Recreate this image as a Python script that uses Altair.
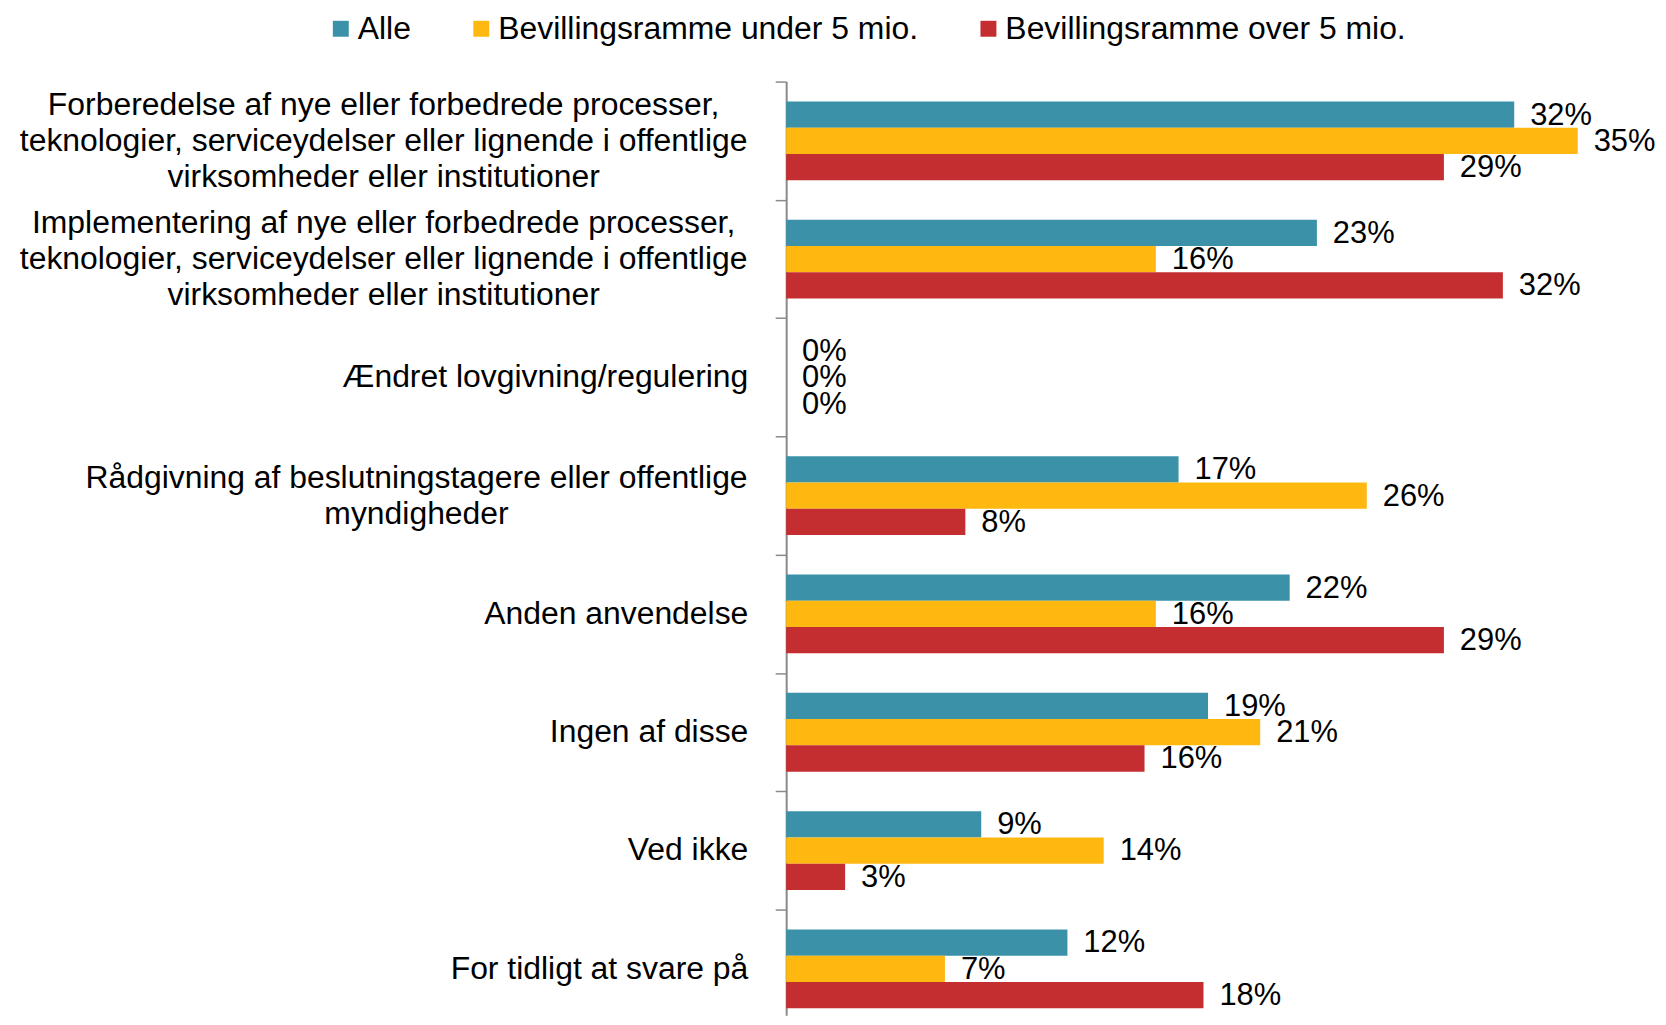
import altair as alt
import pandas as pd

categories = [
    "Forberedelse af nye eller forbedrede processer,|teknologier, serviceydelser eller lignende i offentlige|virksomheder eller institutioner",
    "Implementering af nye eller forbedrede processer,|teknologier, serviceydelser eller lignende i offentlige|virksomheder eller institutioner",
    "Ændret lovgivning/regulering",
    "Rådgivning af beslutningstagere eller offentlige|myndigheder",
    "Anden anvendelse",
    "Ingen af disse",
    "Ved ikke",
    "For tidligt at svare på",
]
series = ["Alle", "Bevillingsramme under 5 mio.", "Bevillingsramme over 5 mio."]
colors = ["#3A91A8", "#FEB80F", "#C42E30"]

alle = [0.321, 0.234, 0.0, 0.173, 0.222, 0.186, 0.086, 0.124]
under_5 = [0.349, 0.163, 0.0, 0.256, 0.163, 0.209, 0.140, 0.070]
over_5 = [0.290, 0.316, 0.0, 0.079, 0.290, 0.158, 0.026, 0.184]

rows = []
for s, vals in zip(series, [alle, under_5, over_5]):
    for c, v in zip(categories, vals):
        rows.append({"cat": c, "series": s, "value": v})
df = pd.DataFrame(rows)
cat_df = pd.DataFrame({"cat": categories})

FONT = "Liberation Sans"
PLOT_H = 937

y_scale = alt.Scale(domain=categories, paddingInner=0.334, paddingOuter=0.114, align=0.74)
y_enc = alt.Y(
    "cat:N",
    sort=categories,
    scale=y_scale,
    axis=alt.Axis(
        title=None,
        labels=False,
        bandPosition=0,
        tickOffset=-20,
        tickSize=11,
        tickWidth=1.5,
        tickColor="#8A8A8A",
        domainColor="#8A8A8A",
        domainWidth=2,
        grid=False,
    ),
)
yoff = alt.YOffset("series:N", sort=series, scale=alt.Scale(domain=series))
x_enc = alt.X("value:Q", scale=alt.Scale(domain=[0, 0.38], nice=False, zero=True), axis=None)

bars = alt.Chart(df).mark_bar().encode(
    y=y_enc,
    yOffset=yoff,
    x=x_enc,
    color=alt.Color(
        "series:N",
        sort=series,
        scale=alt.Scale(domain=series, range=colors),
        legend=alt.Legend(
            title=None,
            orient="none",
            direction="horizontal",
            legendX=-463,
            legendY=-69,
            labelFont=FONT,
            labelFontSize=32,
            labelColor="#000000",
            labelLimit=1000,
            labelOffset=1,
            symbolType="square",
            symbolSize=256,
            symbolStrokeWidth=0,
            columnPadding=54,
            padding=0,
        ),
    ),
)

value_labels = alt.Chart(df).mark_text(
    align="left", baseline="middle", dx=16, dy=1, fontSize=31, font=FONT, color="#000000"
).encode(
    y=alt.Y("cat:N", sort=categories, scale=y_scale),
    yOffset=yoff,
    x=x_enc,
    text=alt.Text("value:Q", format=".0%"),
)

cat_labels = alt.Chart(cat_df).transform_calculate(
    lines="split(datum.cat, '|')"
).mark_text(
    baseline="middle",
    fontSize=32,
    lineHeight=36,
    font=FONT,
    color="#000000",
    align=alt.ExprRef("indexof(datum.cat, '|') >= 0 ? 'center' : 'right'"),
    dx=alt.ExprRef(
        "indexof(datum.cat, 'institutioner') >= 0 ? -404 : "
        "(indexof(datum.cat, 'myndigheder') >= 0 ? -371 : -38)"
    ),
    dy=alt.ExprRef("-(length(datum.lines) - 1) * 18"),
).encode(
    y=alt.Y("cat:N", sort=categories, scale=y_scale),
    x=alt.datum(0),
    text="lines:N",
)

chart = alt.layer(bars, value_labels, cat_labels).properties(
    width=865,
    height=PLOT_H,
    autosize=alt.AutoSizeParams(type="none"),
    padding={"left": 781, "top": 72, "right": 10, "bottom": 0},
).configure_view(stroke=None)

chart.save("out.html", embed_options={"renderer": "svg", "actions": False})
